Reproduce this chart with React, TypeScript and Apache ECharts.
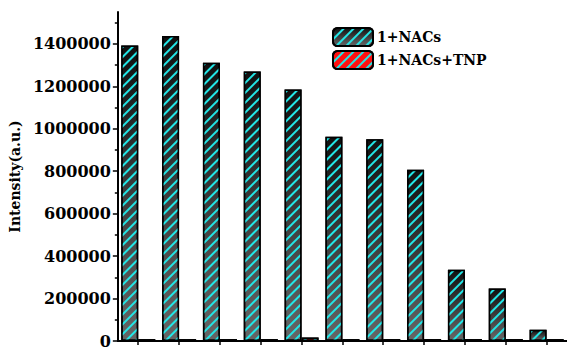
import React, { useEffect, useRef } from "react";
import * as echarts from "echarts";

const categories = ["1", "2", "3", "4", "5", "6", "7", "8", "9", "10", "11"];
const nacsValues = [1392000, 1437000, 1311000, 1270000, 1185000, 962000, 950000, 807000, 336000, 247000, 53000];
const tnpValues = [9000, 9000, 9000, 9000, 16000, 9000, 9000, 9000, 9000, 9000, 9000];
const yTickValues = [0, 200000, 400000, 600000, 800000, 1000000, 1200000, 1400000];
const seriesNames = ["1+NACs", "1+NACs+TNP"];

const FONT = "DejaVu Serif";

const stripeDecal = {
  symbol: "rect",
  symbolSize: 1,
  color: "#22e6e6",
  dashArrayX: [1, 0],
  dashArrayY: [2, 4.5],
  rotation: -Math.PI / 4,
};

export default function App() {
  const ref = useRef<HTMLDivElement>(null);
  useEffect(() => {
    document.body.style.margin = "0";
    const chart = echarts.init(ref.current!, null, { renderer: "svg" });
    chart.setOption({
      animation: false,
      backgroundColor: "#ffffff",
      grid: { left: 107, top: 12, width: 466, height: 332, containLabel: false },
      legend: {
        orient: "vertical",
        left: 332,
        top: 27,
        padding: 0,
        itemWidth: 40,
        itemHeight: 18,
        itemGap: 3,
        textStyle: { fontFamily: FONT, fontWeight: "bold", fontSize: 14, color: "#000", padding: [0, 0, 0, -1] },
        data: seriesNames,
      },
      xAxis: {
        type: "category",
        data: categories,
        axisLine: { show: true, lineStyle: { color: "#000", width: 2 } },
        axisTick: { show: true, alignWithLabel: true, length: 4, lineStyle: { color: "#000", width: 1.5 } },
        axisLabel: { show: false },
        splitLine: { show: false },
      },
      yAxis: {
        type: "value",
        min: 0,
        max: 1550000,
        interval: 200000,
        name: "Intensity(a.u.)",
        nameLocation: "middle",
        nameGap: 79,
        nameTextStyle: { fontFamily: FONT, fontWeight: "bold", fontSize: 14, color: "#000" },
        axisLine: { show: true, lineStyle: { color: "#000", width: 2 } },
        axisTick: { show: true, length: 5, customValues: yTickValues, lineStyle: { color: "#000", width: 1.5 } },
        minorTick: { show: true, splitNumber: 2, length: 3, lineStyle: { color: "#000", width: 1.5 } },
        axisLabel: {
          customValues: yTickValues,
          formatter: (v: number) => String(v),
          margin: 7,
          fontFamily: FONT,
          fontWeight: "bold",
          fontSize: 16,
          color: "#000",
        },
        splitLine: { show: false },
      },
      series: [
        {
          name: seriesNames[0],
          type: "bar",
          data: nacsValues,
          barWidth: 17,
          barGap: "0%",
          itemStyle: {
            color: new echarts.graphic.LinearGradient(0, 0, 0, 1, [
              { offset: 0, color: "#111111" },
              { offset: 1, color: "#666666" },
            ]),
            borderColor: "#000",
            borderWidth: 1.5,
            decal: stripeDecal,
          },
        },
        {
          name: seriesNames[1],
          type: "bar",
          data: tnpValues,
          barWidth: 17,
          barGap: "0%",
          itemStyle: {
            color: "#ff1010",
            borderColor: "#000",
            borderWidth: 1.5,
            decal: stripeDecal,
          },
        },
      ],
    });
    return () => chart.dispose();
  }, []);
  return <div ref={ref} style={{ width: 567, height: 349 }} />;
}
